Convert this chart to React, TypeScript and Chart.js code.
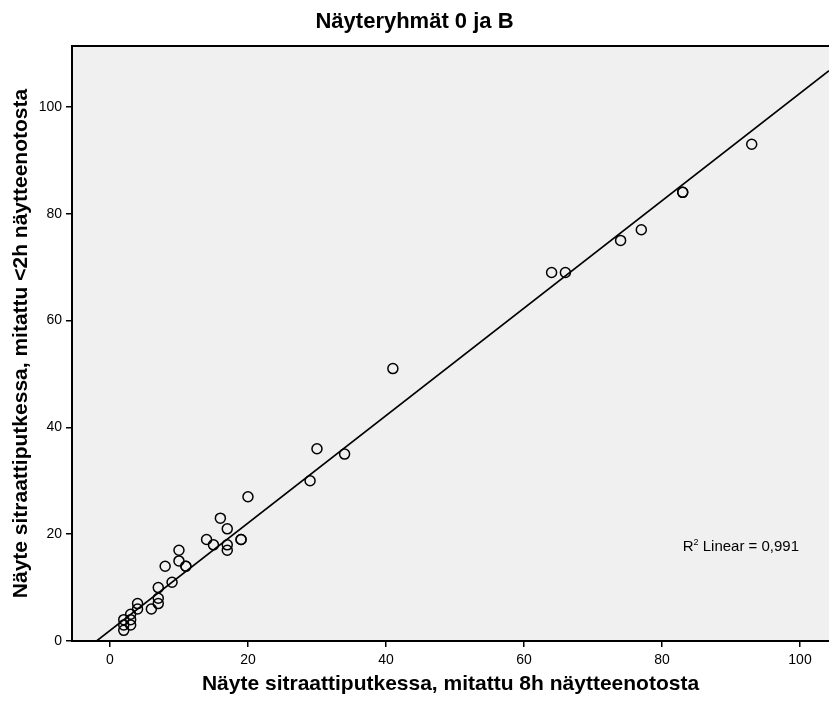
import React, { useEffect, useRef } from "react";
import { Chart, registerables } from "chart.js";

Chart.register(...registerables);

const TITLE = "Näyteryhmät 0 ja B";
const X_TITLE = "Näyte sitraattiputkessa, mitattu 8h näytteenotosta";
const Y_TITLE = "Näyte sitraattiputkessa, mitattu <2h näytteenotosta";

const X_VALUES = [2, 2, 2, 3, 3, 3, 4, 4, 6, 7, 7, 7, 8, 9, 10, 10, 11, 11, 14, 15, 16, 17, 17, 17, 19, 19, 20, 29, 30, 34, 41, 64, 66, 74, 77, 83, 83, 93];
const Y_VALUES = [2, 3, 4, 3, 4, 5, 6, 7, 6, 7, 8, 10, 14, 11, 15, 17, 14, 14, 19, 18, 23, 21, 18, 17, 19, 19, 27, 30, 36, 35, 51, 69, 69, 75, 77, 84, 84, 93];

const X_TICKS = [0, 20, 40, 60, 80, 100];
const Y_TICKS = [0, 20, 40, 60, 80, 100];
const X_MIN = -5.5;
const X_MAX = 104.2;
const Y_MIN = 0;
const Y_MAX = 111.4;

const FIT_SLOPE = 1.006;
const FIT_INTERCEPT = 1.95;
const R2_VALUE = "0,991";
const R2_POS_X = 83;
const R2_POS_Y = 16.8;

const FONT = "'Liberation Sans', Arial, sans-serif";

const decorPlugin = {
  id: "decor",
  beforeDraw(chart: any) {
    const { ctx, chartArea } = chart;
    ctx.save();
    ctx.fillStyle = "#f0f0f0";
    ctx.fillRect(chartArea.left, chartArea.top, chartArea.right - chartArea.left, chartArea.bottom - chartArea.top);
    ctx.restore();
  },
  afterDraw(chart: any) {
    const { ctx, chartArea, scales } = chart;
    ctx.save();
    ctx.strokeStyle = "#000";
    ctx.lineWidth = 2;
    ctx.beginPath();
    ctx.moveTo(chartArea.left - 1, chartArea.top);
    ctx.lineTo(chartArea.right, chartArea.top);
    ctx.stroke();

    const px = scales.x.getPixelForValue(R2_POS_X);
    const py = scales.y.getPixelForValue(R2_POS_Y);
    ctx.fillStyle = "#000";
    ctx.textBaseline = "alphabetic";
    ctx.textAlign = "left";
    ctx.font = `15px ${FONT}`;
    ctx.fillText("R", px, py);
    let x = px + ctx.measureText("R").width;
    ctx.font = `9px ${FONT}`;
    ctx.fillText("2", x, py - 6);
    x += ctx.measureText("2").width;
    ctx.font = `15px ${FONT}`;
    ctx.fillText(` Linear = ${R2_VALUE}`, x, py);
    ctx.restore();
  },
};

export default function App() {
  const ref = useRef<HTMLCanvasElement | null>(null);

  useEffect(() => {
    if (!ref.current) return;
    const points = X_VALUES.map((x, i) => ({ x, y: Y_VALUES[i] }));
    const fitStartX = -FIT_INTERCEPT / FIT_SLOPE;
    const fitLine = [
      { x: fitStartX, y: FIT_INTERCEPT + FIT_SLOPE * fitStartX },
      { x: X_MAX, y: FIT_INTERCEPT + FIT_SLOPE * X_MAX },
    ];

    const chart = new Chart(ref.current, {
      type: "scatter",
      data: {
        datasets: [
          {
            type: "line",
            data: fitLine,
            borderColor: "#000",
            borderWidth: 1.6,
            pointRadius: 0,
            fill: false,
          } as any,
          {
            data: points,
            pointStyle: "circle",
            pointRadius: 5,
            pointBorderWidth: 1.5,
            borderColor: "#000",
            backgroundColor: "rgba(0,0,0,0)",
            pointBackgroundColor: "rgba(0,0,0,0)",
            pointBorderColor: "#000",
          } as any,
        ],
      },
      options: {
        responsive: false,
        animation: false,
        layout: { padding: 0, autoPadding: false },
        plugins: {
          legend: { display: false },
          tooltip: { enabled: false },
          title: {
            display: true,
            text: TITLE,
            color: "#000",
            font: { family: FONT, size: 22, weight: "bold" },
            padding: { top: 8.8, bottom: 10.8 },
          },
        },
        scales: {
          x: {
            type: "linear",
            min: X_MIN,
            max: X_MAX,
            afterFit: (s: any) => {
              s.height = 62;
              s.paddingLeft = 0;
              s.paddingRight = 0;
            },
            afterBuildTicks: (s: any) => {
              s.ticks = X_TICKS.map((v) => ({ value: v }));
            },
            ticks: {
              color: "#000",
              font: { family: FONT, size: 14 },
              padding: 5,
              maxRotation: 0,
            },
            grid: {
              display: true,
              drawOnChartArea: false,
              drawTicks: true,
              tickLength: 6,
              color: "#000",
              lineWidth: 1.5,
            },
            border: { display: true, color: "#000", width: 2 },
            title: {
              display: true,
              text: X_TITLE,
              color: "#000",
              font: { family: FONT, size: 21, weight: "bold" },
              padding: { top: 0, bottom: 6 },
            },
          },
          y: {
            type: "linear",
            position: "left",
            min: Y_MIN,
            max: Y_MAX,
            afterFit: (s: any) => {
              s.width = 72;
              s.paddingTop = 0;
              s.paddingBottom = 0;
            },
            afterBuildTicks: (s: any) => {
              s.ticks = Y_TICKS.map((v) => ({ value: v }));
            },
            ticks: {
              color: "#000",
              font: { family: FONT, size: 14 },
              padding: 4,
            },
            grid: {
              display: true,
              drawOnChartArea: false,
              drawTicks: true,
              tickLength: 6,
              color: "#000",
              lineWidth: 1.5,
            },
            border: { display: true, color: "#000", width: 2 },
            title: {
              display: true,
              text: Y_TITLE,
              color: "#000",
              font: { family: FONT, size: 21, weight: "bold" },
              padding: { top: 9, bottom: 0 },
            },
          },
        },
      } as any,
      plugins: [decorPlugin],
    });

    return () => chart.destroy();
  }, []);

  return (
    <div style={{ position: "absolute", left: 0, top: 0, width: 829, height: 703, background: "#fff" }}>
      <canvas ref={ref} width={829} height={703} style={{ display: "block" }} />
    </div>
  );
}
